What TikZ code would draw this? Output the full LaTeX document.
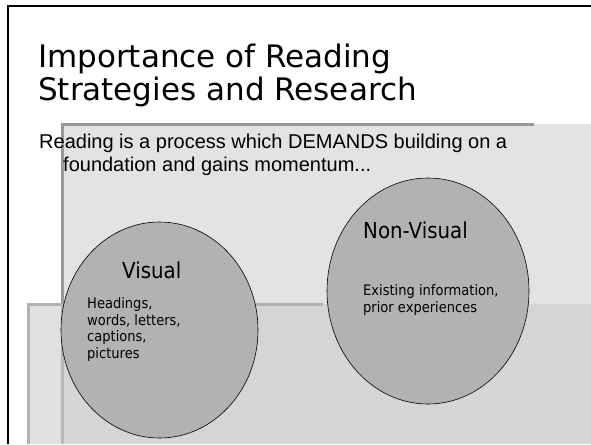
\documentclass[tikz,border=0pt]{standalone}
\usepackage{fontspec}
\setmainfont{Liberation Sans}
\newfontfamily\titlefont{DejaVu Sans}
\newfontfamily\bubblefont[FakeStretch=0.9]{DejaVu Sans}
\usetikzlibrary{shapes.geometric}
\tikzset{
  slideline/.style={line width=2.5pt,black},
  topbar/.style={line width=3pt,black!40},
  lowbar/.style={line width=3pt,black!30},
  bubble/.style={ellipse,draw=black,line width=0.6pt,fill=black!30,inner sep=0pt},
  txt/.style={anchor=base west,inner sep=0pt,align=left},
}
\begin{document}
\begin{tikzpicture}[x=1pt,y=-1pt]
  \useasboundingbox (0,0) rectangle (591,444);
  % slide frame
  \draw[slideline] (8,444)--(8,6)--(591,6);

  % upper panel
  \fill[black!11] (61,124) rectangle (591,444);
  \draw[topbar] (61,124.5)--(534,124.5);
  \draw[topbar] (62,124)--(62,444);
  % lower panel
  \fill[black!20,fill opacity=0.6] (27,304) rectangle (591,444);
  \draw[lowbar] (27,304.5)--(323,304.5);
  \draw[lowbar] (28.5,304)--(28.5,444);

  % bubbles
  \node[bubble,minimum width=197pt,minimum height=216pt] (visual) at (159.5,330) {};
  \node[bubble,minimum width=202pt,minimum height=226pt] (nonvisual) at (428,291) {};

  % texts (base = last line)
  \node[txt,font=\titlefont\fontsize{31}{33}\selectfont] (title) at (38,100)
    {Importance of Reading\\Strategies and Research};
  \node[txt,font=\fontsize{20}{23}\selectfont] (lead) at (39,171)
    {Reading is a process which DEMANDS building on a\\\hspace*{24pt}foundation and gains momentum...};

  \node[txt,font=\bubblefont\fontsize{22}{26}\selectfont] (vishead) at (122,278) {Visual};
  \node[txt,font=\bubblefont\fontsize{14.5}{16.5}\selectfont] (visitems) at (87,358)
    {Headings,\\words, letters,\\captions,\\pictures};
  \node[txt,font=\bubblefont\fontsize{22}{26}\selectfont] (nvhead) at (363,238) {Non-Visual};
  \node[txt,font=\bubblefont\fontsize{14.5}{17}\selectfont] (nvitems) at (363,312)
    {Existing information,\\prior experiences};
\end{tikzpicture}
\end{document}
